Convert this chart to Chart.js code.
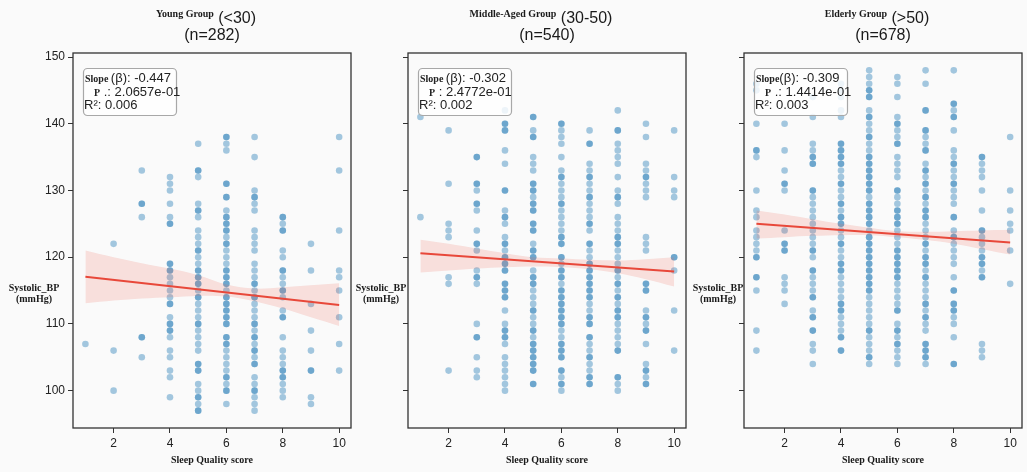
<!DOCTYPE html>
<html>
<head>
<meta charset="utf-8">
<script src="https://cdn.jsdelivr.net/npm/chart.js@4.4.0/dist/chart.umd.min.js"></script>
<style>
  body { margin: 0; background: #fafafa; width: 1027px; height: 472px; overflow: hidden; position: relative; }
  canvas { position: absolute; top: 0; }
</style>
</head>
<body>
<canvas id="c0" width="356" height="472" style="left:0px"></canvas>
<canvas id="c1" width="341" height="472" style="left:350px"></canvas>
<canvas id="c2" width="335" height="472" style="left:692px"></canvas>
<script>
// sleep quality score (x) and systolic BP readings per score, one list per score 1..10
const scores = [1, 2, 3, 4, 5, 6, 7, 8, 9, 10];
const xTicks = [2, 4, 6, 8, 10];
const yTicks = [100, 110, 120, 130, 140, 150];

const youngBP = [
  [107],
  [122, 106, 100],
  [133, 128, 128, 126, 108, 108, 105],
  [132, 131, 130, 128, 126, 125, 125, 119, 119, 118, 118, 117, 116, 115, 114, 113, 113, 111, 110, 110, 109, 109, 108, 106, 105, 103, 102, 99],
  [137, 133, 133, 132, 128, 127, 127, 126, 124, 123, 122, 121, 121, 120, 119, 118, 118, 117, 117, 116, 116, 115, 114, 114, 113, 112, 111, 110, 110, 109, 108, 107, 106, 104, 104, 103, 103, 101, 100, 99, 99, 98, 97, 97],
  [138, 138, 137, 136, 131, 131, 129, 129, 127, 126, 126, 125, 125, 124, 124, 123, 122, 122, 121, 120, 119, 118, 118, 117, 117, 116, 116, 115, 114, 114, 113, 113, 112, 112, 111, 111, 110, 110, 108, 108, 107, 107, 106, 105, 104, 103, 102, 102, 101, 100, 100, 98],
  [138, 135, 130, 129, 129, 128, 127, 124, 123, 122, 121, 119, 118, 117, 116, 116, 115, 114, 114, 113, 112, 111, 110, 110, 109, 108, 108, 107, 106, 106, 105, 104, 104, 102, 101, 100, 100, 99, 98, 97],
  [126, 126, 125, 124, 124, 121, 120, 118, 118, 117, 116, 115, 115, 114, 112, 111, 111, 108, 106, 105, 104, 103, 103, 102, 102, 101, 100, 99],
  [122, 118, 113, 109, 106, 103, 103, 99, 98],
  [138, 133, 124, 118, 117, 115, 111, 107, 103]
];

const middleBP = [
  [141, 126],
  [139, 131, 125, 124, 123, 117, 116, 103],
  [135, 135, 131, 131, 130, 128, 128, 127, 124, 122, 122, 121, 118, 117, 117, 116, 110, 108, 108, 105, 103, 102],
  [142, 140, 140, 139, 139, 136, 134, 130, 130, 127, 126, 126, 125, 123, 122, 122, 121, 120, 120, 119, 119, 118, 118, 116, 116, 115, 115, 114, 114, 112, 110, 109, 109, 108, 108, 107, 105, 104, 103, 102, 101, 100],
  [141, 141, 139, 138, 138, 135, 134, 133, 131, 131, 130, 130, 129, 128, 128, 127, 127, 125, 125, 124, 124, 122, 121, 121, 120, 120, 118, 117, 117, 116, 116, 115, 114, 113, 112, 112, 111, 110, 109, 109, 108, 107, 107, 106, 106, 105, 105, 104, 104, 103, 103, 101, 101],
  [140, 140, 139, 138, 137, 135, 133, 132, 132, 131, 130, 129, 128, 128, 127, 126, 125, 124, 123, 123, 122, 122, 120, 120, 119, 118, 118, 117, 117, 116, 115, 115, 114, 114, 113, 113, 112, 112, 111, 111, 110, 110, 109, 108, 107, 107, 106, 106, 105, 105, 103, 103, 102, 101, 101, 100],
  [139, 137, 137, 134, 133, 132, 132, 131, 130, 129, 129, 128, 127, 126, 125, 125, 124, 122, 122, 121, 120, 119, 119, 118, 118, 117, 117, 116, 116, 115, 115, 114, 114, 113, 112, 111, 111, 110, 110, 108, 108, 107, 106, 105, 105, 104, 103, 102, 102, 101, 101],
  [142, 139, 139, 137, 136, 135, 134, 132, 130, 129, 129, 128, 126, 125, 124, 123, 123, 122, 122, 121, 120, 119, 118, 118, 117, 116, 116, 115, 114, 114, 113, 112, 112, 111, 111, 110, 109, 108, 107, 106, 106, 102, 102, 101, 100],
  [140, 138, 134, 133, 132, 132, 131, 130, 129, 123, 122, 121, 116, 116, 115, 115, 112, 111, 111, 110, 109, 109, 107, 104, 103, 103, 102, 101, 101],
  [139, 132, 130, 129, 120, 120, 118, 112, 106]
];

const elderlyBP = [
  [146, 145, 140, 136, 136, 135, 130, 127, 126, 124, 123, 122, 121, 120, 120, 117, 117, 115, 109, 106],
  [140, 136, 133, 131, 131, 130, 124, 122, 122, 121, 121, 117, 116, 115, 113],
  [144, 141, 137, 136, 135, 135, 134, 134, 130, 130, 129, 128, 127, 126, 125, 124, 123, 122, 121, 121, 120, 118, 118, 117, 116, 115, 114, 114, 112, 111, 111, 109, 109, 107, 106, 104],
  [146, 145, 144, 142, 141, 137, 137, 136, 136, 135, 135, 134, 134, 133, 132, 131, 131, 130, 129, 128, 128, 127, 126, 126, 125, 125, 124, 123, 122, 122, 121, 120, 119, 119, 118, 118, 117, 116, 115, 114, 113, 113, 112, 112, 111, 110, 109, 108, 108, 106, 106],
  [148, 147, 146, 145, 145, 144, 144, 142, 141, 141, 140, 139, 138, 138, 137, 136, 135, 135, 134, 134, 133, 133, 132, 132, 131, 131, 130, 130, 129, 128, 128, 127, 127, 126, 126, 125, 125, 124, 123, 123, 122, 122, 121, 121, 120, 120, 119, 119, 118, 118, 117, 117, 116, 116, 115, 115, 114, 113, 112, 111, 110, 109, 109, 108, 107, 106, 105, 105, 104],
  [147, 146, 144, 141, 140, 140, 139, 138, 137, 137, 135, 134, 133, 132, 130, 130, 129, 128, 127, 127, 126, 126, 125, 125, 124, 123, 122, 121, 121, 120, 120, 119, 119, 118, 118, 117, 117, 116, 115, 114, 113, 112, 112, 110, 109, 109, 108, 107, 107, 106, 105, 104],
  [148, 146, 142, 142, 139, 139, 138, 137, 136, 136, 134, 133, 133, 132, 131, 131, 130, 129, 129, 128, 127, 127, 126, 126, 125, 124, 123, 122, 122, 121, 120, 120, 119, 119, 118, 117, 117, 116, 115, 114, 113, 113, 112, 111, 111, 110, 109, 107, 107, 106, 106, 105, 105, 104],
  [148, 143, 143, 142, 141, 141, 139, 136, 135, 134, 134, 133, 132, 131, 131, 130, 129, 128, 126, 126, 124, 123, 123, 122, 121, 120, 119, 117, 115, 115, 113, 113, 112, 112, 111, 110, 108, 104, 104],
  [135, 135, 134, 133, 132, 130, 127, 124, 124, 123, 122, 121, 120, 120, 119, 119, 118, 117, 117, 107, 106, 105],
  [138, 130, 127, 125, 124, 121, 116]
];

// regression line ends (score 1 and 10) and confidence band edges per score
const fitStart = [117.05, 120.6, 125.0];
const fitEnd = [112.85, 117.85, 122.2];
const youngBandLow = [113.1, 113.5, 113.8, 114.0, 114.2, 114.1, 113.4, 112.3, 111.0, 109.7];
const youngBandHigh = [121.0, 120.0, 119.1, 118.3, 117.3, 115.9, 115.3, 115.5, 115.8, 116.1];
const middleBandLow = [117.7, 118.0, 118.3, 118.5, 118.6, 118.5, 118.2, 117.6, 116.7, 115.6];
const middleBandHigh = [122.6, 122.0, 121.3, 120.6, 120.0, 119.8, 119.6, 119.5, 119.7, 120.0];
const elderlyBandLow = [122.8, 123.0, 123.2, 123.3, 123.3, 123.0, 122.6, 122.0, 121.2, 120.4];
const elderlyBandHigh = [127.0, 126.4, 125.7, 125.0, 124.4, 123.9, 123.8, 123.9, 124.0, 124.1];

// texts
const groupNames = ['Young Group', 'Middle-Aged Group', 'Elderly Group'];
const ageRanges = [' (<30)', ' (30-50)', ' (>50)'];
const groupSizes = [282, 540, 678];
const slopeLabels = ['Slope ', 'Slope ', 'Slope'];
const slopeValues = ['(β): -0.447', '(β): -0.302', '(β): -0.309'];
const pValues = [' .: 2.0657e-01', ' : 2.4772e-01', ' .: 1.4414e-01'];
const r2Values = ['R²: 0.006', 'R²: 0.002', 'R²: 0.003'];

const SERIF_B = '"Liberation Serif", "Times New Roman", serif';
const SANS = '"Liberation Sans", Arial, sans-serif';

const areaLefts = [73, 58, 52];
const yLabelOffsets = [39, 27, 26];

function drawRuns(ctx, x, y, runs) {
  let cx = x;
  runs.forEach(r => {
    ctx.font = r.f;
    ctx.fillText(r.t, cx, y + (r.dy || 0));
    cx += ctx.measureText(r.t).width;
  });
}
function runsWidth(ctx, runs) {
  let w = 0;
  runs.forEach(r => { ctx.font = r.f; w += ctx.measureText(r.t).width; });
  return w;
}

const panelDecor = {
  id: 'panelDecor',
  afterDatasetsDraw(chart, args, opts) {
    const p = opts.idx;
    const { ctx, chartArea: a } = chart;
    ctx.save();
    // annotation box
    const bx = a.left + 10, by = 68, bw = 93, bh = 47;
    ctx.beginPath();
    ctx.roundRect(bx + 0.5, by + 0.5, bw, bh, 4);
    ctx.fillStyle = 'rgba(255,255,255,0.8)';
    ctx.fill();
    ctx.strokeStyle = '#a8a8a8';
    ctx.lineWidth = 1.2;
    ctx.stroke();
    ctx.fillStyle = '#222';
    ctx.textBaseline = 'alphabetic';
    ctx.textAlign = 'left';
    drawRuns(ctx, bx + 2, 82, [
      { t: slopeLabels[p], f: 'bold 10px ' + SERIF_B },
      { t: slopeValues[p], f: '13px ' + SANS }
    ]);
    drawRuns(ctx, bx + 11, 95.5, [
      { t: 'P', f: 'bold 10px ' + SERIF_B },
      { t: pValues[p], f: '13px ' + SANS }
    ]);
    drawRuns(ctx, bx + 1, 109, [{ t: r2Values[p], f: '13px ' + SANS }]);
    // spines
    ctx.strokeStyle = '#333';
    ctx.lineWidth = 1.3;
    ctx.strokeRect(a.left, a.top, a.right - a.left, a.bottom - a.top);
    ctx.restore();
  },
  afterDraw(chart, args, opts) {
    const p = opts.idx;
    const { ctx, chartArea: a } = chart;
    const cx = (a.left + a.right) / 2;
    ctx.save();
    ctx.fillStyle = '#1a1a1a';
    ctx.textBaseline = 'alphabetic';
    ctx.textAlign = 'left';
    const title = [
      { t: groupNames[p], f: 'bold 10px ' + SERIF_B, dy: -6 },
      { t: ageRanges[p], f: '16px ' + SANS }
    ];
    drawRuns(ctx, cx - runsWidth(ctx, title) / 2 - 6, 23, title);
    ctx.textAlign = 'center';
    ctx.font = '16px ' + SANS;
    ctx.fillText('(n=' + groupSizes[p] + ')', cx, 39.5);
    ctx.font = 'bold 10px ' + SERIF_B;
    const lx = a.left - yLabelOffsets[p];
    ctx.fillText('Systolic_BP', lx, 291);
    ctx.fillText('(mmHg)', lx, 302);
    ctx.fillText('Sleep Quality score', cx, 463);
    ctx.restore();
  }
};

const panels = [
  { id: 'c0', bp: youngBP, low: youngBandLow, high: youngBandHigh },
  { id: 'c1', bp: middleBP, low: middleBandLow, high: middleBandHigh },
  { id: 'c2', bp: elderlyBP, low: elderlyBandLow, high: elderlyBandHigh }
];

panels.forEach((pn, p) => {
  const pts = [];
  pn.bp.forEach((ys, i) => ys.forEach(y => pts.push({ x: scores[i], y: y })));
  const low = scores.map((s, i) => ({ x: s, y: pn.low[i] }));
  const high = scores.map((s, i) => ({ x: s, y: pn.high[i] }));
  const fit = [{ x: scores[0], y: fitStart[p] }, { x: scores[scores.length - 1], y: fitEnd[p] }];

  new Chart(document.getElementById(pn.id), {
    type: 'scatter',
    data: {
      datasets: [
        { type: 'scatter', data: pts, order: 3, pointRadius: 3.3, pointHoverRadius: 3.3,
          backgroundColor: 'rgba(31,119,180,0.4)', borderWidth: 0 },
        { type: 'line', data: low, order: 2, pointRadius: 0, borderWidth: 0, tension: 0.35, fill: false },
        { type: 'line', data: high, order: 2, pointRadius: 0, borderWidth: 0, tension: 0.35,
          fill: '-1', backgroundColor: 'rgba(240,90,70,0.17)' },
        { type: 'line', data: fit, order: 1, pointRadius: 0, borderColor: '#e8483a', borderWidth: 2, fill: false }
      ]
    },
    options: {
      responsive: false,
      animation: false,
      devicePixelRatio: 1,
      layout: { padding: { top: 53, left: 0, right: 5, bottom: 0 } },
      plugins: { legend: { display: false }, tooltip: { enabled: false }, panelDecor: { idx: p } },
      scales: {
        x: {
          type: 'linear', min: 0.56, max: 10.42,
          afterBuildTicks: s => { s.ticks = xTicks.map(v => ({ value: v })); },
          afterFit: s => { s.height = 44; },
          border: { display: false },
          grid: { drawOnChartArea: false, drawTicks: true, tickLength: 5, color: '#333' },
          ticks: { padding: 3, color: '#222', font: { family: SANS, size: 12 } }
        },
        y: {
          type: 'linear', min: 94.4, max: 150.6,
          afterBuildTicks: s => { s.ticks = yTicks.map(v => ({ value: v })); },
          afterFit: s => { s.width = areaLefts[p]; },
          border: { display: false },
          grid: { drawOnChartArea: false, drawTicks: true, tickLength: 5, color: '#333' },
          ticks: { padding: 3, color: '#222', font: { family: SANS, size: 12 },
                   callback: v => (p === 0 ? String(v) : '') }
        }
      }
    },
    plugins: [panelDecor]
  });
});
</script>
</body>
</html>
